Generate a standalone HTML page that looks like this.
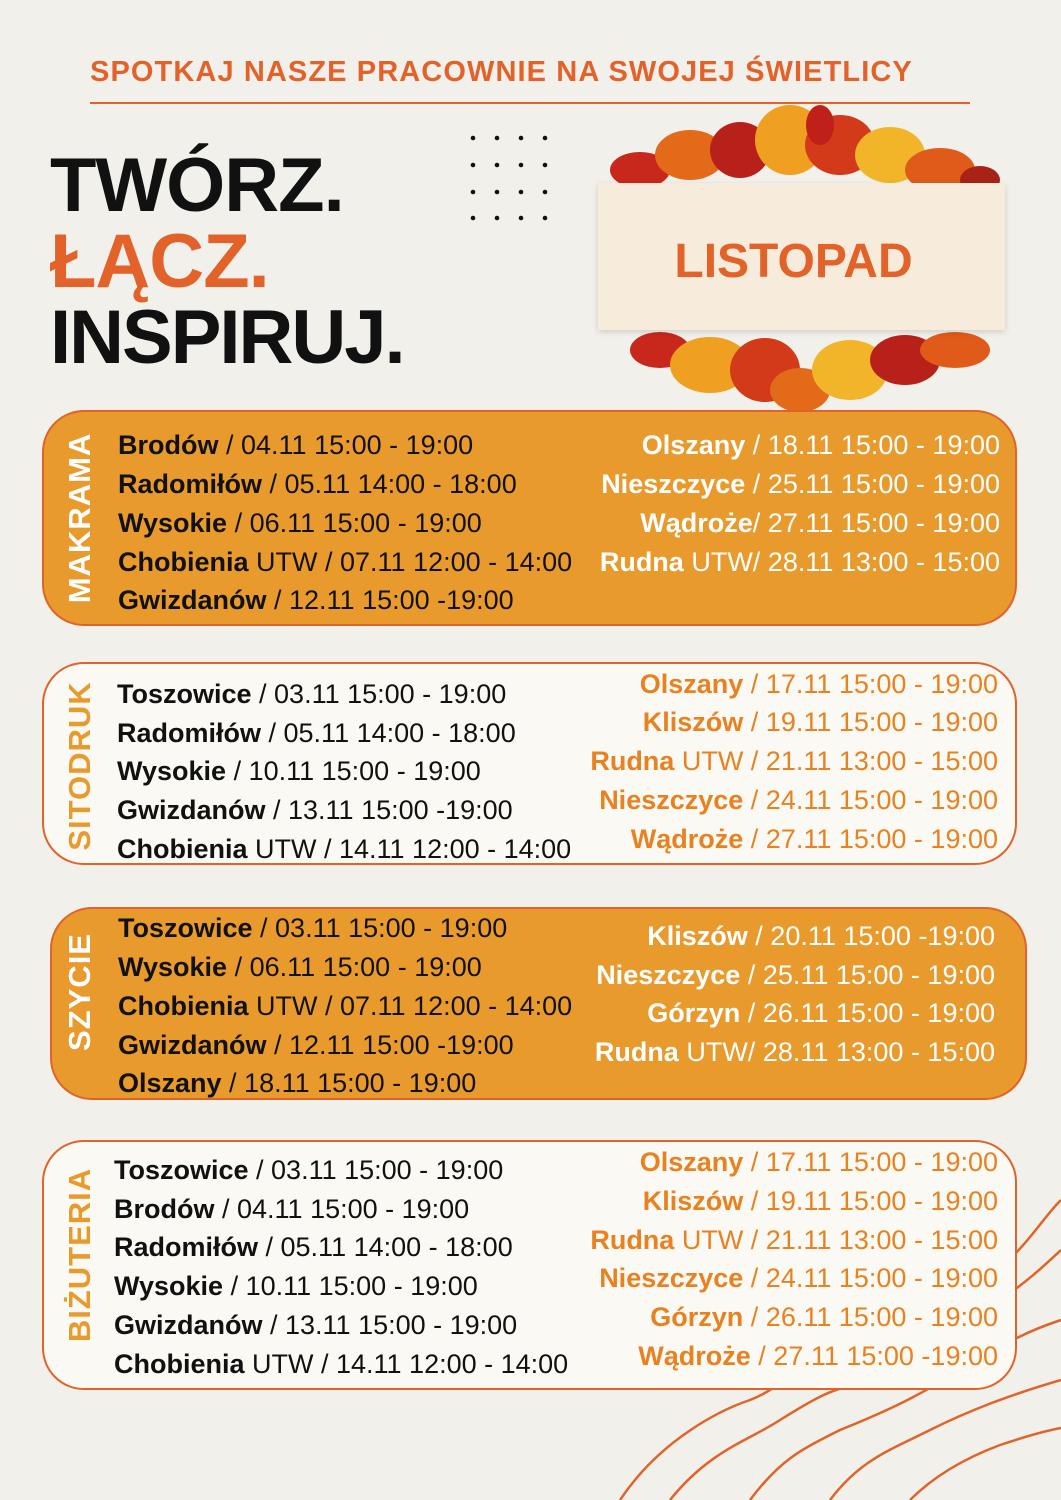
<!DOCTYPE html>
<html><head><meta charset="utf-8">
<style>
*{margin:0;padding:0;box-sizing:border-box}
body{width:1061px;height:1500px;background:#f2f0ea;position:relative;overflow:hidden;font-family:"Liberation Sans",sans-serif}
.a{position:absolute;white-space:nowrap}
.hdr{left:90px;top:56px;font-size:29px;font-weight:bold;color:#e2622a;letter-spacing:1.1px}
.big{left:50px;font-size:76px;font-weight:bold;letter-spacing:-1px;line-height:76px}
.box{position:absolute;border:2.5px solid #e0632a;border-radius:42px}
.or{background:#e99a2c}
.wh{background:#fbf9f3}
.lab{position:absolute;font-weight:bold;font-size:31px;letter-spacing:1px;transform:rotate(-90deg);transform-origin:center;white-space:nowrap;text-align:center;width:220px;margin-left:-110px;margin-top:-18px;line-height:36px}
.r{font-size:27px;line-height:34px;color:#111}
.r b{font-weight:bold}
.rt{text-align:right}
.ow{color:#fff}
.oo{color:#e8811f}
</style></head><body>
<svg class="a" style="left:600px;top:1180px" width="461" height="320">
<g fill="none" stroke="#e0632a" stroke-width="2.5">
<path d="M20 320 C60 260 120 230 150 220 C200 200 180 180 240 170 C300 160 330 120 380 100 C420 80 440 40 461 20"/>
<path d="M70 320 C110 270 150 260 180 240 C220 215 230 210 270 200 C330 180 360 140 400 120 C430 100 450 80 461 70"/>
<path d="M150 320 C180 280 200 270 240 250 C290 230 320 215 360 190 C400 165 430 150 461 140"/>
<path d="M230 320 C260 280 290 270 330 250 C370 230 410 215 461 200"/>
<path d="M310 320 C330 300 360 280 400 265 C430 255 450 250 461 248"/>
</g></svg>
<div class="a hdr">SPOTKAJ NASZE PRACOWNIE NA SWOJEJ ŚWIETLICY</div>
<div class="a" style="left:90px;top:102px;width:880px;height:2px;background:#e2622a"></div>
<div class="a big" style="top:148px;color:#111">TWÓRZ.</div>
<div class="a big" style="top:224px;color:#e2622a">ŁĄCZ.</div>
<div class="a big" style="top:300px;color:#111;letter-spacing:-2px">INSPIRUJ.</div>
<svg class="a" style="left:465px;top:130px" width="90" height="95">
<g fill="#111">
<circle cx="8" cy="8" r="2.3"/><circle cx="32" cy="8" r="2.3"/><circle cx="56" cy="8" r="2.3"/><circle cx="80" cy="8" r="2.3"/>
<circle cx="8" cy="35" r="2.3"/><circle cx="32" cy="35" r="2.3"/><circle cx="56" cy="35" r="2.3"/><circle cx="80" cy="35" r="2.3"/>
<circle cx="8" cy="62" r="2.3"/><circle cx="32" cy="62" r="2.3"/><circle cx="56" cy="62" r="2.3"/><circle cx="80" cy="62" r="2.3"/>
<circle cx="8" cy="88" r="2.3"/><circle cx="32" cy="88" r="2.3"/><circle cx="56" cy="88" r="2.3"/><circle cx="80" cy="88" r="2.3"/>
</g></svg>
<svg class="a" style="left:600px;top:100px" width="410" height="320">
<g>
<ellipse cx="40" cy="70" rx="30" ry="18" fill="#c8281c"/>
<ellipse cx="90" cy="55" rx="35" ry="25" fill="#e36a18"/>
<ellipse cx="140" cy="50" rx="30" ry="28" fill="#b8201a"/>
<ellipse cx="190" cy="40" rx="35" ry="35" fill="#f0a020"/>
<ellipse cx="240" cy="45" rx="35" ry="30" fill="#d23a1a"/>
<ellipse cx="290" cy="55" rx="35" ry="28" fill="#f2b52a"/>
<ellipse cx="340" cy="70" rx="35" ry="22" fill="#e05a1a"/>
<ellipse cx="380" cy="80" rx="20" ry="14" fill="#a82218"/>
<ellipse cx="220" cy="25" rx="14" ry="20" fill="#c0201a"/>
<ellipse cx="60" cy="250" rx="30" ry="18" fill="#c8281c"/>
<ellipse cx="110" cy="265" rx="40" ry="28" fill="#f0a020"/>
<ellipse cx="165" cy="270" rx="35" ry="32" fill="#d23a1a"/>
<ellipse cx="200" cy="290" rx="30" ry="22" fill="#e36a18"/>
<ellipse cx="250" cy="270" rx="38" ry="30" fill="#f2b52a"/>
<ellipse cx="305" cy="260" rx="35" ry="25" fill="#b8201a"/>
<ellipse cx="355" cy="250" rx="35" ry="18" fill="#e05a1a"/>
</g></svg>
<div class="a" style="left:598px;top:183px;width:407px;height:147px;background:#f7ecdc;box-shadow:0 2px 6px rgba(0,0,0,.15)"></div>
<div class="a" style="left:590px;top:232px;width:407px;text-align:center;font-size:48px;font-weight:bold;color:#e2622a;line-height:60px">LISTOPAD</div>

<div class="box or" style="left:42px;top:410px;width:975px;height:216px"></div>
<div class="lab" style="left:80px;top:518px;color:#fff">MAKRAMA</div>
<div class="a r" style="left:118px;top:428px"><b>Brodów</b> / 04.11 15:00 - 19:00</div>
<div class="a r" style="left:118px;top:467px"><b>Radomiłów</b> / 05.11 14:00 - 18:00</div>
<div class="a r" style="left:118px;top:506px"><b>Wysokie</b> / 06.11 15:00 - 19:00</div>
<div class="a r" style="left:118px;top:545px"><b>Chobienia</b> UTW / 07.11 12:00 - 14:00</div>
<div class="a r" style="left:118px;top:583px"><b>Gwizdanów</b> /  12.11 15:00 -19:00</div>
<div class="a r rt ow" style="right:61px;top:428px"><b>Olszany</b> / 18.11 15:00 - 19:00</div>
<div class="a r rt ow" style="right:61px;top:467px"><b>Nieszczyce</b> / 25.11 15:00 - 19:00</div>
<div class="a r rt ow" style="right:61px;top:506px"><b>Wądroże</b>/ 27.11 15:00 - 19:00</div>
<div class="a r rt ow" style="right:61px;top:545px"><b>Rudna</b> UTW/ 28.11 13:00 - 15:00</div>

<div class="box wh" style="left:42px;top:662px;width:975px;height:203px"></div>
<div class="lab" style="left:80px;top:766px;color:#e99a2c">SITODRUK</div>
<div class="a r" style="left:117px;top:677px"><b>Toszowice</b> / 03.11 15:00 - 19:00</div>
<div class="a r" style="left:117px;top:716px"><b>Radomiłów</b> / 05.11 14:00 - 18:00</div>
<div class="a r" style="left:117px;top:754px"><b>Wysokie</b> / 10.11 15:00 - 19:00</div>
<div class="a r" style="left:117px;top:793px"><b>Gwizdanów</b> / 13.11 15:00 -19:00</div>
<div class="a r" style="left:117px;top:832px"><b>Chobienia</b> UTW / 14.11 12:00 - 14:00</div>
<div class="a r rt oo" style="right:63px;top:667px"><b>Olszany</b> / 17.11 15:00 - 19:00</div>
<div class="a r rt oo" style="right:63px;top:705px"><b>Kliszów</b> / 19.11 15:00 - 19:00</div>
<div class="a r rt oo" style="right:63px;top:744px"><b>Rudna</b> UTW / 21.11 13:00 - 15:00</div>
<div class="a r rt oo" style="right:63px;top:783px"><b>Nieszczyce</b> / 24.11 15:00 - 19:00</div>
<div class="a r rt oo" style="right:63px;top:822px"><b>Wądroże</b> / 27.11 15:00 - 19:00</div>

<div class="box or" style="left:50px;top:907px;width:977px;height:193px"></div>
<div class="lab" style="left:80px;top:992px;color:#fff">SZYCIE</div>
<div class="a r" style="left:118px;top:911px"><b>Toszowice</b> / 03.11 15:00 - 19:00</div>
<div class="a r" style="left:118px;top:950px"><b>Wysokie</b> / 06.11 15:00 - 19:00</div>
<div class="a r" style="left:118px;top:989px"><b>Chobienia</b> UTW / 07.11 12:00 - 14:00</div>
<div class="a r" style="left:118px;top:1028px"><b>Gwizdanów</b> / 12.11 15:00 -19:00</div>
<div class="a r" style="left:118px;top:1066px"><b>Olszany</b> / 18.11 15:00 - 19:00</div>
<div class="a r rt ow" style="right:66px;top:919px"><b>Kliszów</b> / 20.11 15:00 -19:00</div>
<div class="a r rt ow" style="right:66px;top:958px"><b>Nieszczyce</b> / 25.11 15:00 - 19:00</div>
<div class="a r rt ow" style="right:66px;top:996px"><b>Górzyn</b>  / 26.11  15:00 - 19:00</div>
<div class="a r rt ow" style="right:66px;top:1035px"><b>Rudna</b> UTW/ 28.11 13:00 - 15:00</div>

<div class="box wh" style="left:42px;top:1140px;width:975px;height:250px"></div>
<div class="lab" style="left:80px;top:1255px;color:#e99a2c">BIŻUTERIA</div>
<div class="a r" style="left:114px;top:1153px"><b>Toszowice</b> / 03.11 15:00 - 19:00</div>
<div class="a r" style="left:114px;top:1192px"><b>Brodów</b> / 04.11 15:00 - 19:00</div>
<div class="a r" style="left:114px;top:1230px"><b>Radomiłów</b> / 05.11 14:00 - 18:00</div>
<div class="a r" style="left:114px;top:1269px"><b>Wysokie</b> / 10.11 15:00 - 19:00</div>
<div class="a r" style="left:114px;top:1308px"><b>Gwizdanów</b> / 13.11 15:00 - 19:00</div>
<div class="a r" style="left:114px;top:1347px"><b>Chobienia</b> UTW / 14.11 12:00 - 14:00</div>
<div class="a r rt oo" style="right:63px;top:1145px"><b>Olszany</b> / 17.11 15:00 - 19:00</div>
<div class="a r rt oo" style="right:63px;top:1184px"><b>Kliszów</b> / 19.11 15:00 - 19:00</div>
<div class="a r rt oo" style="right:63px;top:1223px"><b>Rudna</b> UTW / 21.11 13:00 - 15:00</div>
<div class="a r rt oo" style="right:63px;top:1261px"><b>Nieszczyce</b> / 24.11 15:00 - 19:00</div>
<div class="a r rt oo" style="right:63px;top:1300px"><b>Górzyn</b> / 26.11 15:00 - 19:00</div>
<div class="a r rt oo" style="right:63px;top:1339px"><b>Wądroże</b> / 27.11 15:00 -19:00</div>
</body></html>
